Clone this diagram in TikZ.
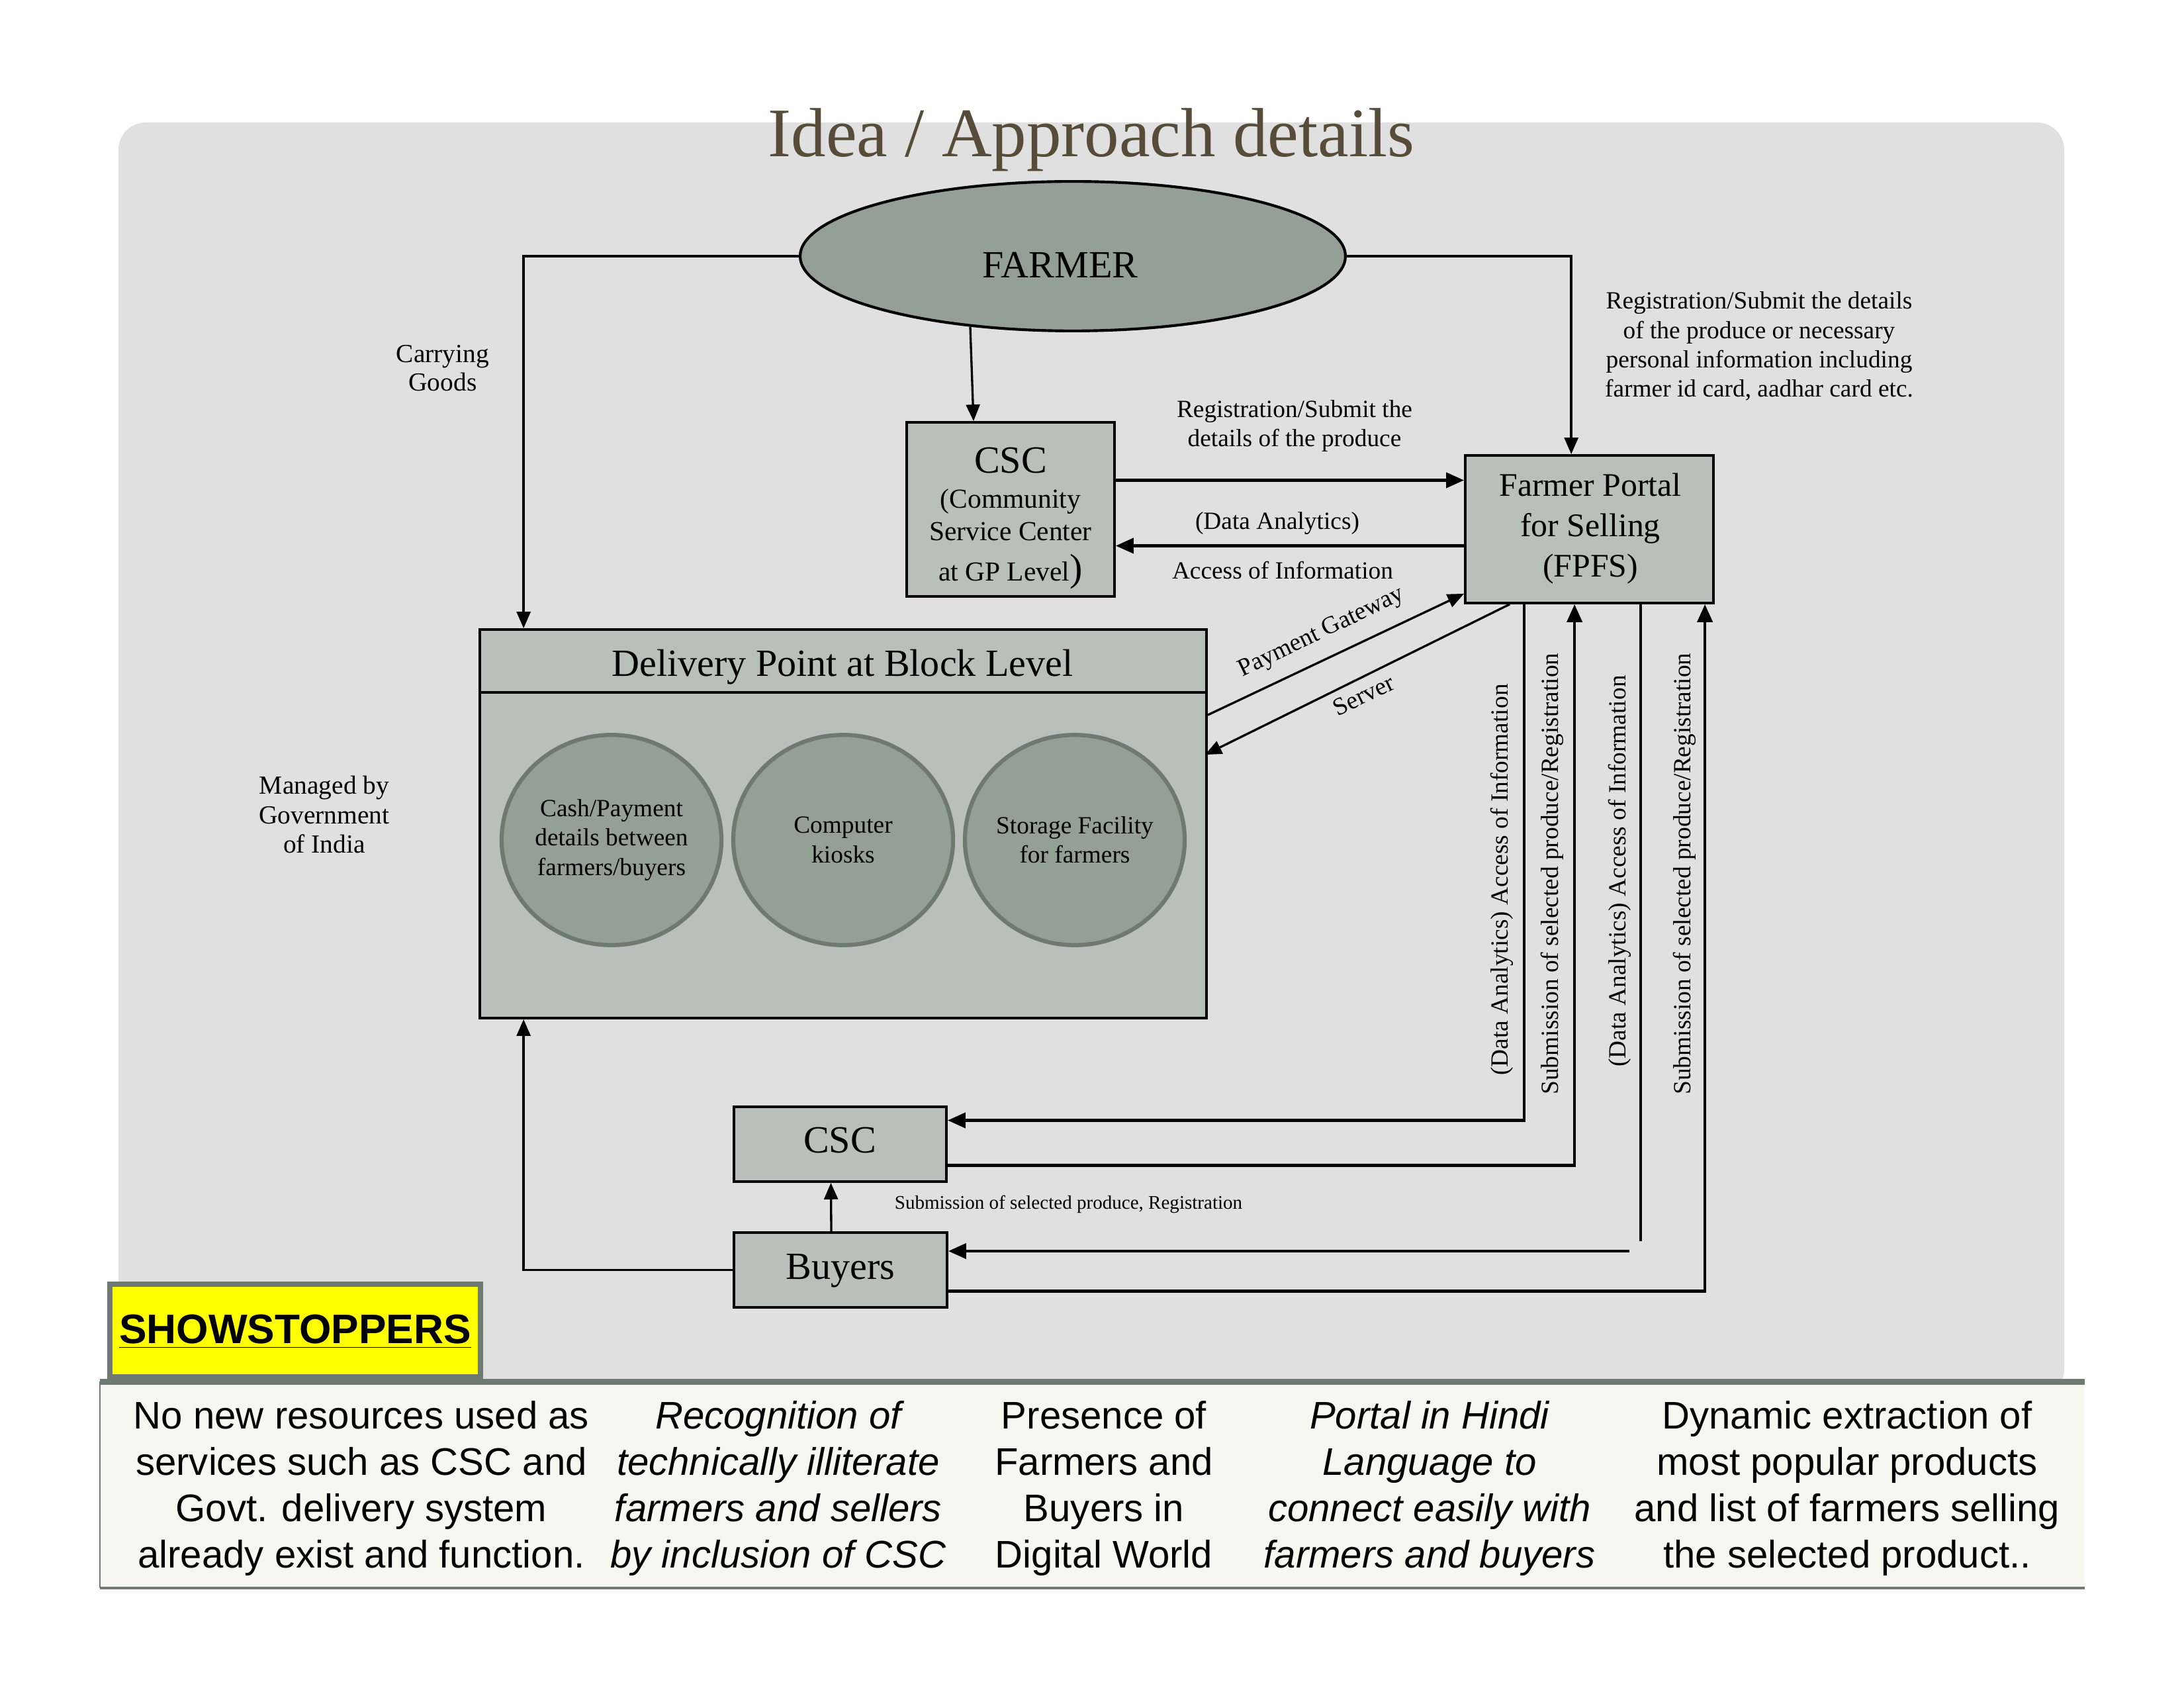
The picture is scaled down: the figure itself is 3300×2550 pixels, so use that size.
\documentclass[tikz,border=0pt]{standalone}
\usepackage{fontspec}
\setmainfont{Liberation Serif}
\newfontfamily\arialf{Liberation Sans}
\usetikzlibrary{arrows.meta,shapes.geometric,fit,calc}
\definecolor{bgc}{HTML}{E0E0E0}
\definecolor{boxc}{HTML}{B9BFBA}
\definecolor{ellc}{HTML}{949F96}
\definecolor{ellb}{HTML}{6E7A70}
\definecolor{titlec}{HTML}{574B3A}
\definecolor{tabc}{HTML}{F7F7F2}
\definecolor{rimc}{HTML}{6E7A72}
\definecolor{yelc}{HTML}{FFFF00}
\newcommand\fsz[2]{\fontsize{#1}{#2}\selectfont}
\begin{document}
\begin{tikzpicture}[x=0.2409pt,y=-0.2409pt,
  box/.style={draw=black, line width=0.9pt, fill=boxc, inner sep=0pt},
  lbl/.style={font=\fsz{9}{10.7}, align=center, inner sep=0pt},
  arr/.style={line width=0.8pt, -{Triangle[length=6pt,width=5pt]}},
  arrthick/.style={line width=1.1pt, -{Triangle[length=6.5pt,width=5.5pt]}},
  con/.style={line width=0.8pt},
  conthick/.style={line width=1.1pt},
  smallell/.style={ellipse, draw=ellb, line width=1.5pt, fill=ellc, minimum width=80pt, minimum height=76.5pt, inner sep=0pt},
  coltext/.style={anchor=base, align=center, inner sep=0pt, font=\arialf\fsz{14}{16.85}},
]
\useasboundingbox (0,0) rectangle (3300,2550);
\fill[white] (0,0) rectangle (3300,2550);
\node[fit={(179,185) (3119,2110)}, inner sep=0pt, fill=bgc, rounded corners=10pt] (bg) {};
\node[anchor=base, inner sep=0pt, text=titlec, font=\fsz{25.3}{28}] (title) at (1649,237) {Idea / Approach details};

% FARMER
\node[ellipse, draw, line width=1pt, fill=ellc, minimum width=198.5pt, minimum height=54.4pt, inner sep=0pt] (farmer) at (1621,387) {};
\node[anchor=base, inner sep=0pt, font=\fsz{14}{16}] (farmerT) at (1602,420) {FARMER};

% CSC top
\node[box, fit={(1370,638) (1684,901)}] (csc1) {};
\node[anchor=base, align=center, inner sep=0pt, font=\fsz{10}{11.8}] (csc1T) at (1527,878)
  {{\fsz{14}{14}CSC}\\[1pt](Community\\Service Center\\[3pt]at GP Level{\fsz{14}{14})}};

% Portal
\node[box, fit={(2214,688) (2589,911)}] (portal) {};
\node[anchor=base, align=center, inner sep=0pt, font=\fsz{12}{14.7}] (portalT) at (2403,872)
  {Farmer Portal\\for Selling\\(FPFS)};

% Delivery point
\node[box, fit={(725,951) (1823,1538)}] (deliv) {};
\draw[line width=0.9pt] ($(deliv.north west)+(0,97)$) -- ($(deliv.north east)+(0,97)$);
\node[anchor=base, inner sep=0pt, font=\fsz{14}{16}] (delivT) at (1273,1022) {Delivery Point at Block Level};
\node[smallell] (e1) at (924,1269) {};
\node[smallell] (e2) at (1274,1269) {};
\node[smallell] (e3) at (1624,1269) {};
\node[lbl] (e1T) at (e1) {Cash/Payment\\details between\\farmers/buyers};
\node[lbl] (e2T) at (e2) {Computer\\kiosks};
\node[lbl] (e3T) at (e3) {Storage Facility\\for farmers};

% lower CSC and Buyers
\node[box, fit={(1109,1672) (1430,1785)}] (csc2) {};
\node[anchor=base, inner sep=0pt, font=\fsz{14}{16}] (csc2T) at (1269,1742) {CSC};
\node[box, fit={(1109,1862) (1431,1975)}] (buyers) {};
\node[anchor=base, inner sep=0pt, font=\fsz{14}{16}] (buyersT) at (1270,1932) {Buyers};

% connectors
\draw[arr] (farmer.west) -| ($(deliv.north west)+(68,0)$);
\draw[arr] (farmer.east) -| ($(portal.north west)+(162,0)$);
\draw[arr] ($(farmer.south)+(-155,-8)$) -- ($(csc1.north)+(-56,0)$);
\draw[arrthick] ($(csc1.east)+(0,-44)$) coordinate (c1) -- (c1 -| portal.west);
\draw[arrthick] ($(portal.west)+(0,25)$) coordinate (c2) -- (c2 -| csc1.east);
\draw[arr] ($(deliv.north east)+(0,131)$) -- ($(portal.south west)+(0,-16)$);
\draw[arr] ($(portal.south west)+(69,0)$) -- ($(deliv.north east)+(-4,191)$);
\draw[arrthick] ($(portal.south west)+(91,0)$) |- ($(csc2.east)+(0,-36)$);
\draw[arrthick] ($(csc2.east)+(0,32)$) -| ($(portal.south west)+(167,0)$);
\draw[conthick] ($(portal.south west)+(267,0)$) -- ++(0,962) coordinate (l3a);
\coordinate (l3b) at (2462,1890);
\draw[arrthick] (l3b) -- (l3b -| buyers.east);
\draw[arrthick] ($(buyers.east)+(0,32)$) -| ($(portal.south west)+(364,0)$);
\draw[arr] ($(buyers.north)+(-14,0)$) -- ($(csc2.south)+(-14,0)$);
\draw[arr] (buyers.west) -| ($(deliv.south west)+(68,0)$);

% labels
\node[lbl, anchor=base] (lb1) at (1956,675) {Registration/Submit the\\details of the produce};
\node[lbl, anchor=base] (lb2) at (1930,800) {(Data Analytics)};
\node[lbl, anchor=base] (lb3) at (1938,875) {Access of Information};
\node[lbl, rotate=25.6] (lb4) at (1997,956) {Payment Gateway};
\node[lbl, rotate=26] (lb5) at (2060,1050) {Server};
\node[lbl, rotate=90] (lb6) at (2269,1329) {(Data Analytics) Access of Information};
\node[lbl, rotate=90] (lb7) at (2345,1320) {Submission of selected produce/Registration};
\node[lbl, rotate=90] (lb8) at (2447,1316) {(Data Analytics) Access of Information};
\node[lbl, rotate=90] (lb9) at (2545,1320) {Submission of selected produce/Registration};
\node[anchor=base west, inner sep=0pt, font=\fsz{7}{8}] (lb10) at (1351,1827) {Submission of selected produce, Registration};
\node[lbl, anchor=base, font=\fsz{9.5}{10.5}] (lb11) at (669,591) {Carrying\\Goods};
\node[lbl, anchor=base, font=\fsz{9.5}{10.8}] (lb12) at (490,1289) {Managed by\\Government\\of India};
\node[lbl, anchor=base] (lb13) at (2658,600) {Registration/Submit the details\\of the produce or necessary\\personal information including\\farmer id card, aadhar card etc.};

% showstoppers table
\node[fit={(152,2088) (3149,2398)}, inner sep=0pt, fill=tabc] (tab) {};
\draw[rimc, line width=2.2pt] (tab.north west) -- (tab.north east);
\draw[rimc, line width=1pt] (tab.south west) -- (tab.south east);
\draw[rimc, line width=0.6pt] (tab.north west) -- (tab.south west);
\node[fit={(166,1940) (726,2080)}, inner sep=0pt, fill=yelc, draw=rimc, line width=2pt] (show) {};
\node[anchor=base, inner sep=0pt, font=\arialf\bfseries\fsz{15}{17}] (showT) at (446,2029) {\underline{SHOWSTOPPERS}};

\node[coltext] (t1) at (546,2368) {No new resources used as\\services such as CSC and\\Govt. delivery system\\already exist and function.};
\node[coltext, font=\arialf\itshape\fsz{14}{16.85}] (t2) at (1176,2368) {Recognition of\\technically illiterate\\farmers and sellers\\by inclusion of CSC};
\node[coltext] (t3) at (1668,2368) {Presence of\\Farmers and\\Buyers in\\Digital World};
\node[coltext, font=\arialf\itshape\fsz{14}{16.85}] (t4) at (2160,2368) {Portal in Hindi\\Language to\\connect easily with\\farmers and buyers};
\node[coltext] (t5) at (2791,2368) {Dynamic extraction of\\most popular products\\and list of farmers selling\\the selected product..};
\end{tikzpicture}
\end{document}
